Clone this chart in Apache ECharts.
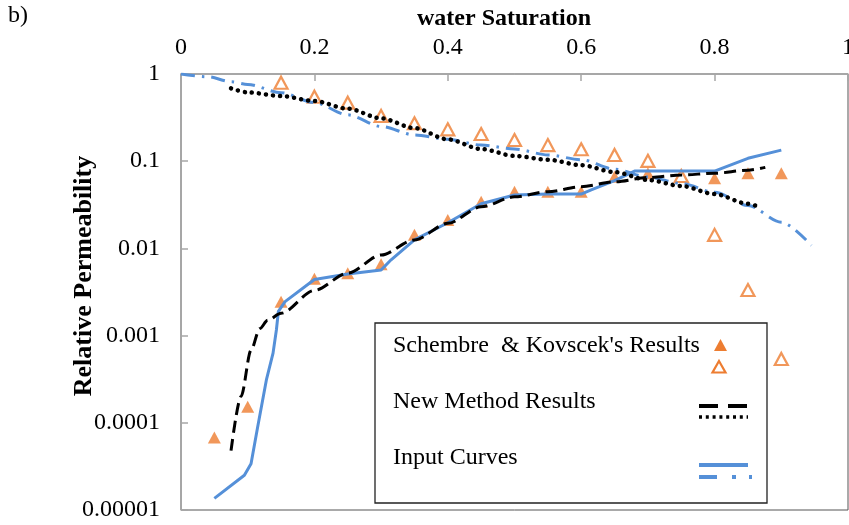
<!DOCTYPE html>
<html>
<head>
<meta charset="utf-8">
<script src="https://cdn.jsdelivr.net/npm/echarts@6/dist/echarts.min.js"></script>
<style>
  html, body { margin: 0; padding: 0; background: #fff; }
  #chart { width: 849px; height: 525px; }
</style>
</head>
<body>
<div id="chart"></div>
<script>
// Tick labels
const xTickLabels = ['0', '0.2', '0.4', '0.6', '0.8', '1'];
const yTickLabels = ['1', '0.1', '0.01', '0.001', '0.0001', '0.00001'];

// Schembre & Kovscek measured points (water / oil relative permeability)
const skKrwSw = [0.05, 0.1, 0.15, 0.2, 0.25, 0.3, 0.35, 0.4, 0.45, 0.5, 0.55, 0.6, 0.65, 0.7, 0.8, 0.85, 0.9];
const skKrw   = [6.8e-5, 1.53e-4, 2.45e-3, 4.5e-3, 5.2e-3, 6.6e-3, 0.0143, 0.0212, 0.0343, 0.0447, 0.0447, 0.0447, 0.0664, 0.0727, 0.0637, 0.0727, 0.0727];
const skKroSw = [0.15, 0.2, 0.25, 0.3, 0.35, 0.4, 0.45, 0.5, 0.55, 0.6, 0.65, 0.7, 0.75, 0.8, 0.85, 0.9];
const skKro   = [0.795, 0.549, 0.469, 0.33, 0.272, 0.232, 0.205, 0.175, 0.153, 0.137, 0.118, 0.101, 0.0676, 0.0143, 0.00333, 0.00054];

// New method results
const newKrwSw = [0.075, 0.09, 0.105, 0.118, 0.13, 0.15, 0.2, 0.25, 0.3, 0.35, 0.4, 0.45, 0.5, 0.55, 0.6, 0.65, 0.7, 0.75, 0.8, 0.85, 0.876];
const newKrw   = [4.8e-5, 2.0e-4, 6.8e-4, 1.2e-3, 1.5e-3, 1.8e-3, 3.3e-3, 5.2e-3, 8.4e-3, 0.0125, 0.0194, 0.030, 0.039, 0.0447, 0.051, 0.058, 0.065, 0.0695, 0.0727, 0.079, 0.085];
const newKroSw = [0.075, 0.1, 0.15, 0.2, 0.25, 0.3, 0.35, 0.4, 0.45, 0.5, 0.55, 0.6, 0.65, 0.7, 0.75, 0.8, 0.85, 0.866];
const newKro   = [0.685, 0.615, 0.56, 0.49, 0.40, 0.31, 0.24, 0.178, 0.138, 0.115, 0.104, 0.09, 0.075, 0.061, 0.052, 0.042, 0.0325, 0.030];

// Input curves
const inKrwSw = [0.05, 0.095, 0.105, 0.115, 0.128, 0.138, 0.143, 0.146, 0.156, 0.2, 0.25, 0.3, 0.315, 0.35, 0.4, 0.45, 0.5, 0.55, 0.6, 0.615, 0.65, 0.68, 0.8, 0.85, 0.9];
const inKrw   = [1.36e-5, 2.5e-5, 3.4e-5, 9.0e-5, 3.1e-4, 6.3e-4, 1.16e-3, 1.9e-3, 2.45e-3, 4.4e-3, 5.1e-3, 5.65e-3, 7.4e-3, 0.0125, 0.0197, 0.0325, 0.041, 0.042, 0.042, 0.0468, 0.060, 0.077, 0.077, 0.108, 0.134];
const inKroSw = [0, 0.04, 0.075, 0.1, 0.15, 0.2, 0.25, 0.3, 0.35, 0.4, 0.45, 0.5, 0.55, 0.6, 0.65, 0.7, 0.75, 0.8, 0.85, 0.9, 0.945];
const inKro   = [1.0, 0.93, 0.815, 0.76, 0.61, 0.47, 0.34, 0.25, 0.2, 0.178, 0.153, 0.138, 0.118, 0.104, 0.081, 0.066, 0.0555, 0.044, 0.031, 0.02, 0.0108];

const pairs = (xs, ys) => xs.map((x, i) => [x, ys[i]]);

const FONT = '"Liberation Serif", "Times New Roman", serif';
const ORANGE = '#ED7D31';
const BLUE = '#5590D8';

const dashBlack = [12, 6];
const dotBlack = [0.1, 7];
const dashDotBlue = [14, 7, 2.5, 7];

const chart = echarts.init(document.getElementById('chart'), null, { renderer: 'canvas' });

const legendX = 375, legendY = 323;
const symX = 699, symW = 49;

chart.setOption({
  animation: false,
  backgroundColor: '#fff',
  grid: {
    left: 181, top: 74, right: 1, bottom: 15,
    outerBoundsMode: 'none', containLabel: false,
    show: true, borderColor: '#555', borderWidth: 1, backgroundColor: 'transparent'
  },
  xAxis: {
    type: 'value', position: 'top', min: 0, max: 1, interval: 0.2,
    axisLine: { show: true, lineStyle: { color: '#a6a6a6', width: 1.5 } },
    axisTick: { show: true, inside: true, length: 7, lineStyle: { color: '#a6a6a6', width: 1.5 } },
    splitLine: { show: false },
    axisLabel: {
      margin: 14, color: '#000', fontFamily: FONT, fontSize: 24,
      formatter: v => xTickLabels[Math.round(v / 0.2)]
    }
  },
  yAxis: {
    type: 'log', logBase: 10, min: 0.00001, max: 1,
    axisLine: { show: true, lineStyle: { color: '#a6a6a6', width: 1.5 } },
    axisTick: { show: true, inside: true, length: 7, lineStyle: { color: '#a6a6a6', width: 1.5 } },
    splitLine: { show: false },
    minorTick: { show: false },
    axisLabel: {
      margin: 21, color: '#000', fontFamily: FONT, fontSize: 24,
      formatter: v => yTickLabels[Math.round(-Math.log10(v))]
    }
  },
  series: [
    {
      name: "Schembre & Kovscek's Results (krw)", type: 'scatter', z: 2,
      data: pairs(skKrwSw, skKrw), symbol: 'triangle', symbolSize: [13, 12],
      itemStyle: { color: ORANGE }
    },
    {
      name: "Schembre & Kovscek's Results (kro)", type: 'scatter', z: 2,
      data: pairs(skKroSw, skKro), symbol: 'triangle', symbolSize: [13, 12],
      itemStyle: { color: '#fff', borderColor: ORANGE, borderWidth: 2.2 }
    },
    {
      name: 'Input Curves (krw)', type: 'line', z: 3,
      data: pairs(inKrwSw, inKrw), showSymbol: false, smooth: false,
      lineStyle: { color: BLUE, width: 3, join: 'round' }
    },
    {
      name: 'Input Curves (kro)', type: 'line', z: 3,
      data: pairs(inKroSw, inKro), showSymbol: false, smooth: 0.3, smoothMonotone: 'x',
      lineStyle: { color: BLUE, width: 3, type: dashDotBlue }
    },
    {
      name: 'New Method Results (krw)', type: 'line', z: 4,
      data: pairs(newKrwSw, newKrw), showSymbol: false, smooth: 0.3, smoothMonotone: 'x',
      lineStyle: { color: '#000', width: 3, type: dashBlack }
    },
    {
      name: 'New Method Results (kro)', type: 'line', z: 4,
      data: pairs(newKroSw, newKro), showSymbol: false, smooth: 0.3, smoothMonotone: 'x',
      lineStyle: { color: '#000', width: 4.5, type: dotBlack, cap: 'round' }
    }
  ],
  graphic: [
    { type: 'text', x: 8, y: 16, style: { text: 'b)', font: '24px ' + FONT, fill: '#000', textVerticalAlign: 'middle' } },
    { type: 'text', x: 504, y: 19, style: { text: 'water Saturation', font: 'bold 24px ' + FONT, fill: '#000', textAlign: 'center', textVerticalAlign: 'middle' } },
    { type: 'text', x: 84, y: 276, rotation: Math.PI / 2, style: { text: 'Relative Permeability', font: 'bold 26px ' + FONT, fill: '#000', textAlign: 'center', textVerticalAlign: 'middle' } },
    // legend box
    { type: 'rect', z: 100, shape: { x: legendX, y: legendY, width: 392, height: 180 }, style: { fill: '#fff', stroke: '#222', lineWidth: 1.3 } },
    { type: 'text', z: 101, x: 393, y: 346, style: { text: "Schembre  & Kovscek's Results", font: '24px ' + FONT, fill: '#000', textVerticalAlign: 'middle' } },
    { type: 'text', z: 101, x: 393, y: 402, style: { text: 'New Method Results', font: '24px ' + FONT, fill: '#000', textVerticalAlign: 'middle' } },
    { type: 'text', z: 101, x: 393, y: 458, style: { text: 'Input Curves', font: '24px ' + FONT, fill: '#000', textVerticalAlign: 'middle' } },
    { type: 'polygon', z: 101, shape: { points: [[720.5, 339], [727, 351], [714, 351]] }, style: { fill: ORANGE } },
    { type: 'polygon', z: 101, shape: { points: [[719, 361], [725.5, 372.5], [712.5, 372.5]] }, style: { fill: '#fff', stroke: ORANGE, lineWidth: 2.2 } },
    { type: 'line', z: 101, shape: { x1: symX, y1: 406, x2: symX + symW, y2: 406 }, style: { stroke: '#000', lineWidth: 4, lineDash: [19, 10] } },
    { type: 'line', z: 101, shape: { x1: symX, y1: 417, x2: symX + symW, y2: 417 }, style: { stroke: '#000', lineWidth: 3.5, lineDash: [3, 3.8] } },
    { type: 'line', z: 101, shape: { x1: symX, y1: 465, x2: symX + symW, y2: 465 }, style: { stroke: BLUE, lineWidth: 4 } },
    { type: 'line', z: 101, shape: { x1: symX, y1: 477, x2: symX + 53, y2: 477 }, style: { stroke: BLUE, lineWidth: 4, lineDash: [18, 15, 4, 13] } }
  ]
});
</script>
</body>
</html>
